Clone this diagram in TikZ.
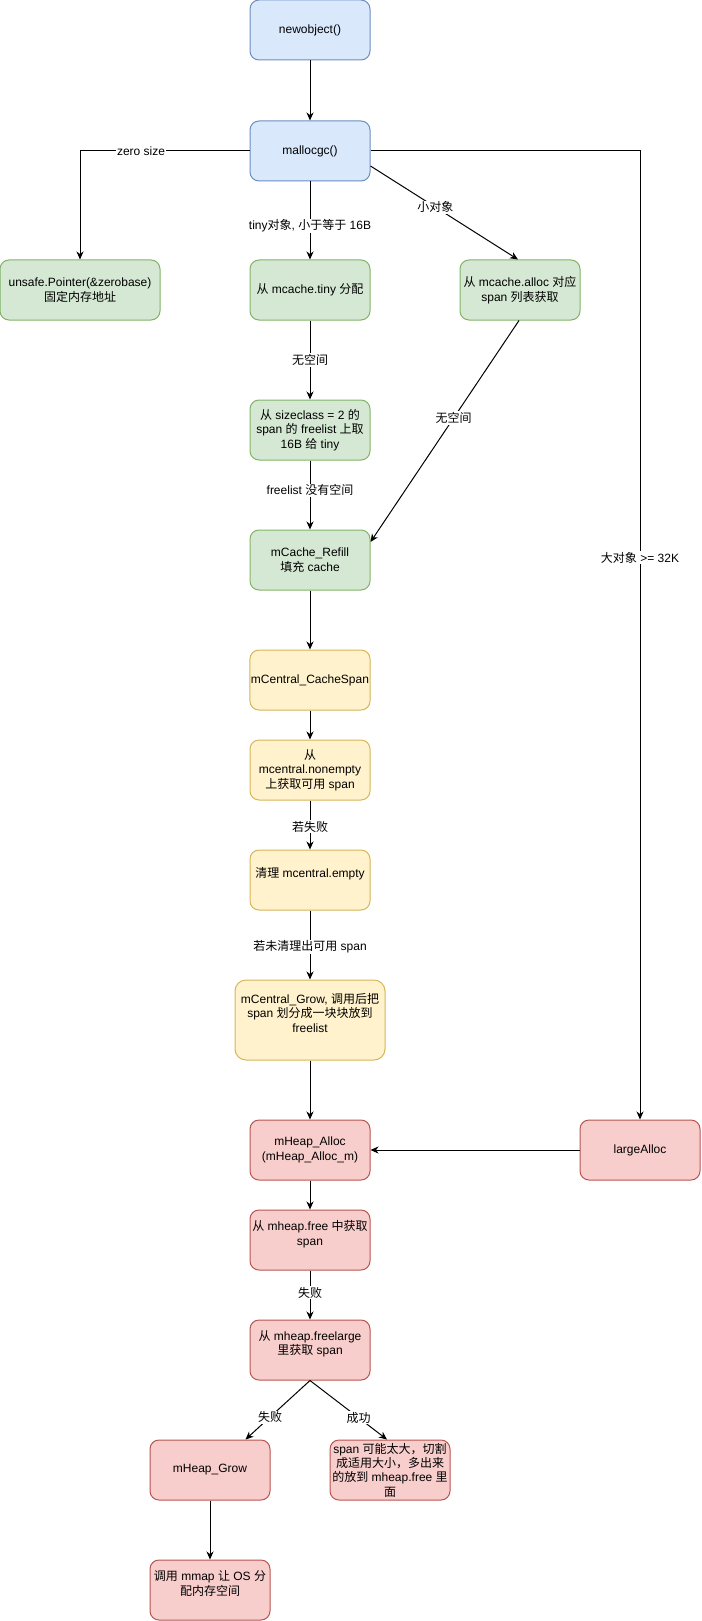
\documentclass[tikz,border=0pt]{standalone}
\usepackage{fontspec}
\setmainfont{Liberation Sans}
\newfontfamily\cjk{Noto Sans CJK SC}
\newcommand\zh[1]{{\cjk #1}}
\usetikzlibrary{arrows.meta}
\definecolor{bluef}{HTML}{DAE8FC}
\definecolor{blued}{HTML}{6C8EBF}
\definecolor{greenf}{HTML}{D5E8D4}
\definecolor{greend}{HTML}{82B366}
\definecolor{yellowf}{HTML}{FFF2CC}
\definecolor{yellowd}{HTML}{D6B656}
\definecolor{redf}{HTML}{F8CECC}
\definecolor{redd}{HTML}{B85450}
\begin{document}
\begin{tikzpicture}[x=1pt,y=-1pt,
  box/.style={draw, rounded corners=9pt, line width=1pt, minimum width=120pt, minimum height=60pt, align=center, inner sep=1pt, font=\fontsize{12}{14.4}\selectfont},
  bluebox/.style={box, fill=bluef, draw=blued},
  greenbox/.style={box, fill=greenf, draw=greend},
  yellowbox/.style={box, fill=yellowf, draw=yellowd},
  redbox/.style={box, fill=redf, draw=redd},
  arr/.style={-{Stealth[length=8pt,width=7pt,inset=2.5pt]}, line width=1pt},
  lbl/.style={fill=white, inner sep=1pt, font=\fontsize{12}{14.4}\selectfont}]
\useasboundingbox (0,0) rectangle (701,1621);

\node[bluebox] (newobj) at (310,30) {newobject()};
\node[bluebox] (malloc) at (310,151) {mallocgc()};
\node[greenbox, minimum width=160pt] (zero) at (80,290) {unsafe.Pointer(\&zerobase)\\\zh{固定内存地址}};
\node[greenbox] (tiny) at (310,290) {\zh{从} mcache.tiny \zh{分配}};
\node[greenbox] (alloc) at (520,290) {\zh{从} mcache.alloc \zh{对应}\\span \zh{列表获取}};
\node[greenbox] (sizecl) at (310,430) {\zh{从} sizeclass = 2 \zh{的}\\span \zh{的} freelist \zh{上取}\\16B \zh{给} tiny};
\node[greenbox] (refill) at (310,560) {mCache\_Refill\\\zh{填充} cache};
\node[yellowbox] (cachespan) at (310,680) {mCentral\_CacheSpan};
\node[yellowbox] (nonempty) at (310,770) {\zh{从}\\mcentral.nonempty\\\zh{上获取可用} span};
\node[yellowbox] (empty) at (310,880) {\zh{清理} mcentral.empty\\\mbox{}};
\node[yellowbox, minimum width=150pt, minimum height=80pt, rounded corners=11pt] (grow) at (310,1020) {mCentral\_Grow, \zh{调用后把}\\span \zh{划分成一块块放到}\\freelist\\\mbox{}};
\node[redbox] (heapalloc) at (310,1150) {mHeap\_Alloc\\(mHeap\_Alloc\_m)};
\node[redbox] (large) at (640,1150) {largeAlloc};
\node[redbox] (hfree) at (310,1240) {\zh{从} mheap.free \zh{中获取}\\span\\\mbox{}};
\node[redbox] (freelarge) at (310,1350) {\zh{从} mheap.freelarge\\\zh{里获取} span\\\mbox{}};
\node[redbox] (hgrow) at (210,1470) {mHeap\_Grow};
\node[redbox] (split) at (390,1470) {span \zh{可能太大，切割}\\\zh{成适用大小，多出来}\\\zh{的放到} mheap.free \zh{里}\\\zh{面}};
\node[redbox] (mmap) at (210,1590) {\zh{调用} mmap \zh{让} OS \zh{分}\\\zh{配内存空间}\\\mbox{}};

\draw[arr] (newobj) -- (malloc);
\draw[arr] (malloc.west) -| node[lbl,pos=0.32]{zero size} (zero.north);
\draw[arr] (malloc) -- node[lbl,pos=0.57]{tiny\zh{对象}, \zh{小于等于} 16B} (tiny);
\draw[arr] ([yshift=-15pt]malloc.east) -- node[lbl,pos=0.44]{\zh{小对象}} ([xshift=-2pt]alloc.north);
\draw[arr] (malloc.east) -| node[lbl,pos=0.71]{\zh{大对象} >= 32K} (large.north);
\draw[arr] (tiny) -- node[lbl]{\zh{无空间}} (sizecl);
\draw[arr] ([xshift=-1pt]alloc.south) -- node[lbl,pos=0.44]{\zh{无空间}} ([yshift=18pt]refill.east);
\draw[arr] (sizecl) -- node[lbl,pos=0.43]{freelist \zh{没有空间}} (refill);
\draw[arr] (refill) -- (cachespan);
\draw[arr] (cachespan) -- (nonempty);
\draw[arr] (nonempty) -- node[lbl,pos=0.54]{\zh{若失败}} (empty);
\draw[arr] (empty) -- node[lbl,pos=0.53]{\zh{若未清理出可用} span} (grow);
\draw[arr] (grow) -- (heapalloc);
\draw[arr] (large) -- (heapalloc);
\draw[arr] (heapalloc) -- (hfree);
\draw[arr] (hfree) -- node[lbl,pos=0.45]{\zh{失败}} (freelarge);
\draw[arr] (freelarge.south) -- node[lbl,pos=0.62]{\zh{失败}} ([xshift=-25pt]hgrow.north east);
\draw[arr] (freelarge.south) -- node[lbl,pos=0.63]{\zh{成功}} ([xshift=-3pt]split.north);
\draw[arr] (hgrow) -- (mmap);
\end{tikzpicture}
\end{document}
